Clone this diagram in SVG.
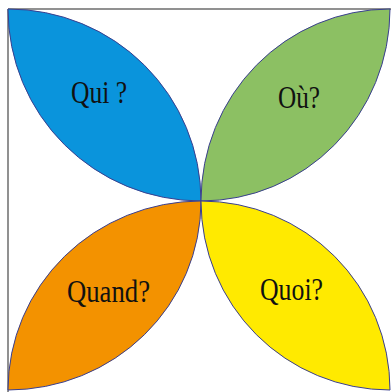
<svg xmlns="http://www.w3.org/2000/svg" width="391" height="392" viewBox="0 0 391 392">
<style>
.petal{stroke:#3a3f8f;stroke-width:1}
.lbl{font-family:"Liberation Serif","DejaVu Serif",serif;font-size:31px;fill:#111}
.frame{stroke:#6e6e6e;stroke-width:1.5;fill:none}
</style>
<rect width="391" height="392" fill="#ffffff"/>
<g id="frame">
<path class="frame" d="M8,9 H391 M8,9 V392"/>
</g>
<g id="qui">
<path class="petal" fill="#0a94dc" d="M8,9 A193,192 0 0 1 201,201 A193,192 0 0 1 8,9 Z"/>
<text class="lbl" x="71" y="103" textLength="56" lengthAdjust="spacingAndGlyphs">Qui ?</text>
</g>
<g id="ou">
<path class="petal" fill="#8cc063" d="M390,9 A189,192 0 0 0 201,201 A189,192 0 0 0 390,9 Z"/>
<text class="lbl" x="278" y="108" textLength="42" lengthAdjust="spacingAndGlyphs">Où?</text>
</g>
<g id="quand">
<path class="petal" fill="#f39200" d="M8,390 A193,189 0 0 0 201,201 A193,189 0 0 0 8,390 Z"/>
<text class="lbl" x="67" y="302" textLength="83" lengthAdjust="spacingAndGlyphs">Quand?</text>
</g>
<g id="quoi">
<path class="petal" fill="#ffea00" d="M390,390 A189,189 0 0 1 201,201 A189,189 0 0 1 390,390 Z"/>
<text class="lbl" x="260" y="300" textLength="63" lengthAdjust="spacingAndGlyphs">Quoi?</text>
</g>
<g id="connectors"/>
</svg>
